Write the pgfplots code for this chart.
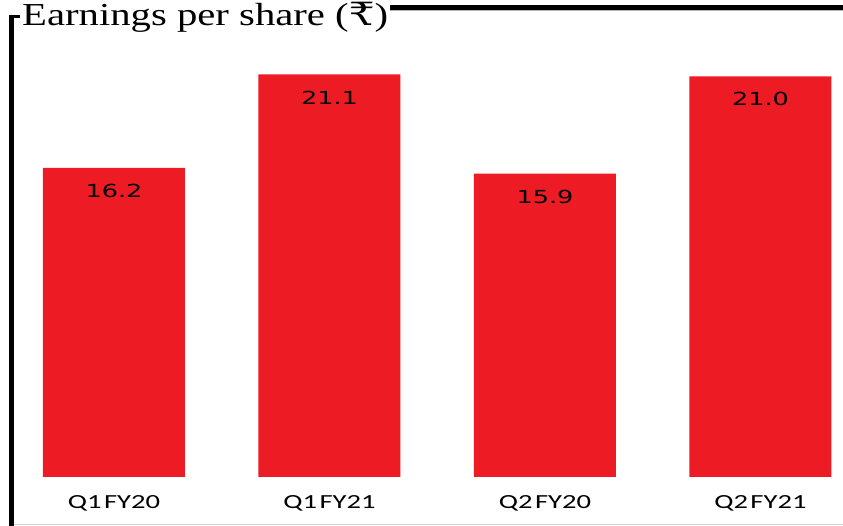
\documentclass[border=0pt]{standalone}
\usepackage{pgfplots}
\pgfplotsset{compat=1.18}
\usepackage{graphicx}
\usepackage{fontspec}
\setmainfont{Liberation Serif}
\newfontfamily\valfont[FakeStretch=1.42]{DejaVu Sans}
\newfontfamily\labfont[FakeStretch=1.43]{Carlito}
\newfontfamily\titfont{Liberation Serif}
\newfontfamily\rupfont{DejaVu Serif}
\definecolor{barred}{HTML}{ED1C24}
\begin{document}
\begin{tikzpicture}[x=1pt,y=1pt]
\path[use as bounding box] (0,0) rectangle (843,526);
\begin{axis}[
  at={(0,0)}, anchor=south west,
  scale only axis, width=843pt, height=526pt,
  xmin=-0.529, xmax=3.383, ymin=-2.568, ymax=25.0,
  axis line style={draw=none},
  major tick length=0pt,
  ytick=\empty,
  xtick={0,1,2,3},
  xticklabels={Q1\hspace{0.12em}FY20,Q1\hspace{0.12em}FY21,Q2\hspace{0.12em}FY20,Q2\hspace{0.12em}FY21},
  xticklabel style={anchor=base, yshift=17pt, font=\labfont\fontsize{20}{20}\selectfont, inner sep=0pt},
  clip=false,
]
\addplot[ybar, bar width=142pt, fill=barred, draw=none,
  point meta=explicit symbolic,
  nodes near coords,
  every node near coord/.append style={anchor=center, yshift=-23pt, font=\valfont\fontsize{18}{18}\selectfont, text=black}]
  coordinates {(0,16.2) [16.2] (1,21.1) [21.1] (2,15.9) [15.9] (3,21.0) [21.0]};
\end{axis}
% frame
\draw[line width=5pt, black] (11.5,0) -- (11.5,511);
\draw[line width=3pt, black] (9,509.5) -- (20,509.5);
\draw[line width=1pt, gray!60] (390,515.5) -- (843,515.5);
\draw[line width=5pt, black] (390,518.5) -- (843,518.5);
\draw[line width=1pt, gray!35] (14,1.5) -- (843,1.5);
\node[anchor=base west, inner sep=0pt] at (22,500)
  {\resizebox{366pt}{\height}{\fontsize{32}{32}\selectfont\titfont Earnings per share ({\rupfont ₹})}};
\end{tikzpicture}
\end{document}
